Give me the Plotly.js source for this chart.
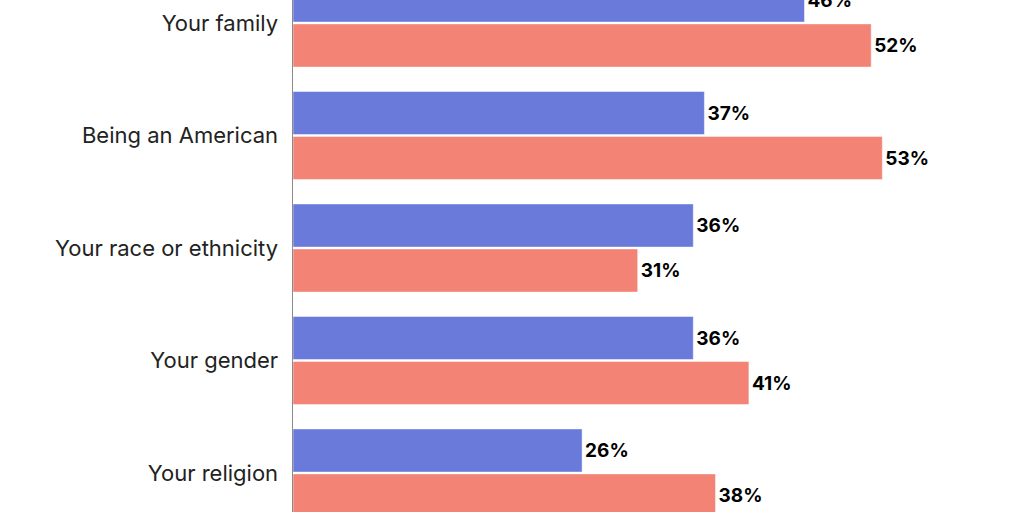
<!DOCTYPE html>
<html>
<head>
<meta charset="utf-8">
<script src="https://cdn.plot.ly/plotly-3.0.1.min.js"></script>
<style>html,body{margin:0;padding:0;background:#fff;overflow:hidden}#chart{width:1024px;height:512px}</style>
</head>
<body>
<div id="chart"></div>
<script>
const categories = ["Your family", "Being an American", "Your race or ethnicity", "Your gender", "Your religion"];
const seriesA = [46, 37, 36, 36, 26];
const seriesB = [52, 53, 31, 41, 38];
const labelsA = seriesA.map(v => v + "%");
const labelsB = seriesB.map(v => v + "%");

const common = {
  type: "bar", orientation: "h", y: categories,
  textposition: "outside", cliponaxis: true,
  textfont: {family: "Inter", size: 19, color: "#000", weight: 700},
  hoverinfo: "skip"
};
const data = [
  Object.assign({}, common, {x: seriesA, text: labelsA, name: "A",
    marker: {color: "#6a7adb", line: {color: "#ffffff", width: 0.5}}}),
  Object.assign({}, common, {x: seriesB, text: labelsB, name: "B",
    marker: {color: "#f28375", line: {color: "#ffffff", width: 0.5}}})
];
const layout = {
  width: 1024, height: 512,
  margin: {l: 293, r: 0, t: 0, b: 0, pad: 0},
  paper_bgcolor: "#fff", plot_bgcolor: "#fff",
  showlegend: false,
  barmode: "group", bargap: 0.2, bargroupgap: 0.04,
  xaxis: {range: [0, 65.74], showgrid: false, zeroline: false, showticklabels: false, ticks: ""},
  yaxis: {type: "category", range: [4.3467, -0.2044], showgrid: false, zeroline: false,
    showline: true, linecolor: "#8a8a8a", linewidth: 1.5, ticks: "", ticklabelstandoff: 9,
    tickfont: {family: "Inter", size: 22, color: "#222"}},
  font: {family: "Inter"}
};
Plotly.newPlot("chart", data, layout, {displayModeBar: false, staticPlot: true});
</script>
</body>
</html>
